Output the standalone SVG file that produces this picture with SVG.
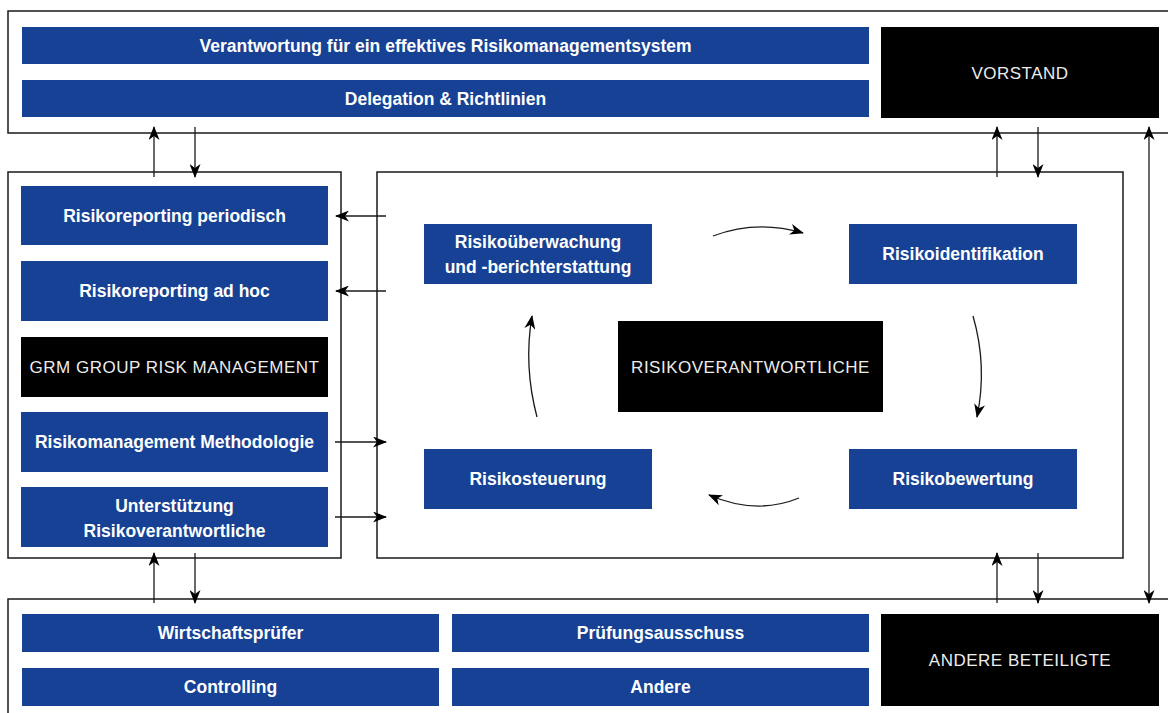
<svg xmlns="http://www.w3.org/2000/svg" width="1168" height="713" viewBox="0 0 1168 713">
<defs>
<style>
.frame{fill:none;stroke:#1a1a1a;stroke-width:1.5}
.blue{fill:#164194}
.black{fill:#000}
.bt{font-family:"Liberation Sans",Arial,sans-serif;font-weight:bold;font-size:17.5px;fill:#fff;text-anchor:middle}
.kt{font-family:"Liberation Sans",Arial,sans-serif;font-size:17px;fill:#ececec;text-anchor:middle;letter-spacing:0.5px}
.ar{fill:none;stroke:#1a1a1a;stroke-width:1.3;marker-end:url(#ah)}
.ar2{fill:none;stroke:#1a1a1a;stroke-width:1.3;marker-end:url(#ah);marker-start:url(#ah)}
</style>
<marker id="ah" viewBox="0 0 14 11" refX="13" refY="5.5" markerWidth="14" markerHeight="11" markerUnits="userSpaceOnUse" orient="auto-start-reverse">
<path d="M0,0 L14,5.5 L0,11 L4,5.5 z" fill="#000"/>
</marker>
</defs>

<g id="frames">
<rect class="frame" x="8" y="11" width="1180" height="122"/>
<rect class="frame" x="8" y="172" width="333" height="386"/>
<rect class="frame" x="377" y="172" width="746" height="386"/>
<rect class="frame" x="8" y="599" width="1180" height="130"/>
</g>

<g id="n-verantwortung"><rect class="blue" x="22" y="27" width="847" height="37"/><text class="bt" x="445.5" y="51.5">Verantwortung für ein effektives Risikomanagementsystem</text></g>
<g id="n-delegation"><rect class="blue" x="22" y="80" width="847" height="37"/><text class="bt" x="445.5" y="104.5">Delegation &amp; Richtlinien</text></g>
<g id="n-vorstand"><rect class="black" x="881" y="27" width="278" height="91"/><text class="kt" x="1020" y="79">VORSTAND</text></g>

<g id="n-periodisch"><rect class="blue" x="21" y="186" width="307" height="59"/><text class="bt" x="174.5" y="221.5">Risikoreporting periodisch</text></g>
<g id="n-adhoc"><rect class="blue" x="21" y="261" width="307" height="60"/><text class="bt" x="174.5" y="297">Risikoreporting ad hoc</text></g>
<g id="n-grm"><rect class="black" x="21" y="337" width="307" height="60"/><text class="kt" x="174.5" y="373">GRM GROUP RISK MANAGEMENT</text></g>
<g id="n-methodologie"><rect class="blue" x="21" y="412" width="307" height="60"/><text class="bt" x="174.5" y="448">Risikomanagement Methodologie</text></g>
<g id="n-unterstuetzung"><rect class="blue" x="21" y="487" width="307" height="60"/><text class="bt" x="174.5" y="512">Unterstützung</text><text class="bt" x="174.5" y="537">Risikoverantwortliche</text></g>

<g id="n-ueberwachung"><rect class="blue" x="424" y="224" width="228" height="60"/><text class="bt" x="538" y="248">Risikoüberwachung</text><text class="bt" x="538" y="273">und -berichterstattung</text></g>
<g id="n-identifikation"><rect class="blue" x="849" y="224" width="228" height="60"/><text class="bt" x="963" y="260">Risikoidentifikation</text></g>
<g id="n-bewertung"><rect class="blue" x="849" y="449" width="228" height="60"/><text class="bt" x="963" y="485">Risikobewertung</text></g>
<g id="n-steuerung"><rect class="blue" x="424" y="449" width="228" height="60"/><text class="bt" x="538" y="485">Risikosteuerung</text></g>
<g id="n-risikoverantwortliche"><rect class="black" x="618" y="321" width="265" height="91"/><text class="kt" x="750.5" y="373">RISIKOVERANTWORTLICHE</text></g>

<g id="n-wirtschaftspruefer"><rect class="blue" x="22" y="614" width="417" height="38"/><text class="bt" x="230.5" y="639">Wirtschaftsprüfer</text></g>
<g id="n-controlling"><rect class="blue" x="22" y="668" width="417" height="38"/><text class="bt" x="230.5" y="693">Controlling</text></g>
<g id="n-pruefungsausschuss"><rect class="blue" x="452" y="614" width="417" height="38"/><text class="bt" x="660.5" y="639">Prüfungsausschuss</text></g>
<g id="n-andere"><rect class="blue" x="452" y="668" width="417" height="38"/><text class="bt" x="660.5" y="693">Andere</text></g>
<g id="n-andere-beteiligte"><rect class="black" x="881" y="614" width="278" height="92"/><text class="kt" x="1020" y="666">ANDERE BETEILIGTE</text></g>

<g id="connectors">
<path class="ar" d="M154,177 L154,127"/>
<path class="ar" d="M195,127 L195,177"/>
<path class="ar" d="M997,177 L997,127"/>
<path class="ar" d="M1038,127 L1038,177"/>
<path class="ar2" d="M1149,603 L1149,127"/>
<path class="ar" d="M154,603 L154,553"/>
<path class="ar" d="M195,553 L195,603"/>
<path class="ar" d="M997,603 L997,553"/>
<path class="ar" d="M1038,553 L1038,603"/>
<path class="ar" d="M386,216 L336,216"/>
<path class="ar" d="M386,291 L336,291"/>
<path class="ar" d="M335,442 L386,442"/>
<path class="ar" d="M335,517 L386,517"/>
<path class="ar" d="M713,236 Q757,219.5 803,233"/>
<path class="ar" d="M973,316 Q987.5,366 977,417"/>
<path class="ar" d="M799,498 Q756,515.5 709,495"/>
<path class="ar" d="M537,417 Q523.5,366 532,316"/>
</g>
</svg>
